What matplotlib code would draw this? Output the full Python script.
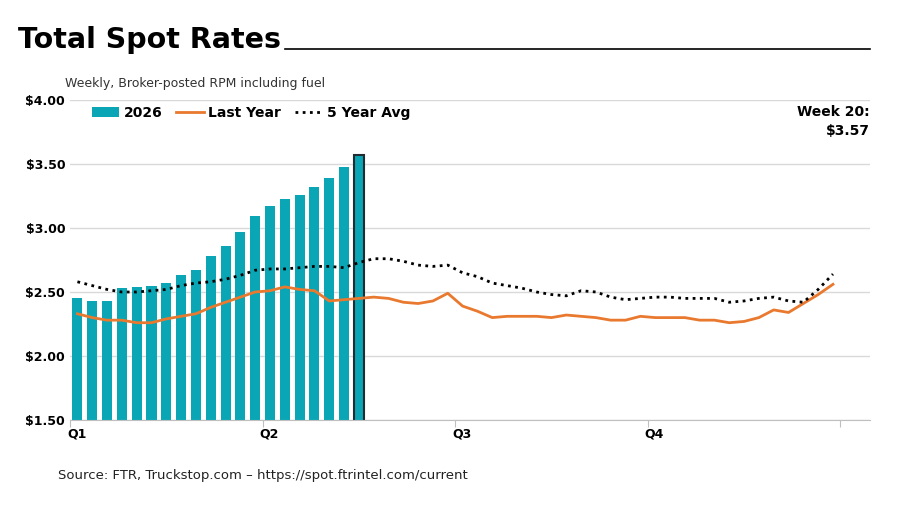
import matplotlib.pyplot as plt
import numpy as np

spot_2026 = [2.45, 2.43, 2.43, 2.53, 2.54, 2.55, 2.57, 2.63, 2.67, 2.78,
             2.86, 2.97, 3.09, 3.17, 3.23, 3.26, 3.32, 3.39, 3.48, 3.57]
last_year = [2.33, 2.30, 2.28, 2.28, 2.26, 2.26, 2.29, 2.31, 2.33, 2.38,
             2.42, 2.46, 2.50, 2.51, 2.54, 2.52, 2.51, 2.43, 2.44, 2.45,
             2.46, 2.45, 2.42, 2.41, 2.43, 2.49, 2.39, 2.35, 2.30, 2.31,
             2.31, 2.31, 2.30, 2.32, 2.31, 2.30, 2.28, 2.28, 2.31, 2.30,
             2.30, 2.30, 2.28, 2.28, 2.26, 2.27, 2.30, 2.36, 2.34, 2.41,
             2.48, 2.56]
five_yr_avg = [2.58, 2.55, 2.52, 2.50, 2.50, 2.51, 2.52, 2.55, 2.57, 2.58,
               2.60, 2.63, 2.67, 2.68, 2.68, 2.69, 2.70, 2.70, 2.69, 2.73,
               2.76, 2.76, 2.74, 2.71, 2.70, 2.71, 2.65, 2.62, 2.57, 2.55,
               2.53, 2.50, 2.48, 2.47, 2.51, 2.50, 2.46, 2.44, 2.45, 2.46,
               2.46, 2.45, 2.45, 2.45, 2.42, 2.43, 2.45, 2.46, 2.43, 2.42,
               2.52, 2.64]
quarters = ['Q1', 'Q2', 'Q3', 'Q4']

teal = '#0aa6b5'
orange = '#e9792f'

fig = plt.figure(figsize=(8.97, 5.05), dpi=100)
ax = fig.add_axes([70 / 897, 85 / 505, 800 / 897, 320 / 505])

x_bar = np.arange(len(spot_2026)) + 0.5
bars = ax.bar(x_bar, spot_2026, width=0.68, color=teal, label='2026', zorder=2)
bars[-1].set_edgecolor('#1f2d33')
bars[-1].set_linewidth(1.5)

x_line = np.arange(len(last_year)) + 0.5
ax.plot(x_line, last_year, color=orange, lw=2, label='Last Year', zorder=3)
ax.plot(x_line, five_yr_avg, color='black', lw=2, ls=(0, (1, 1.6)), label='5 Year Avg', zorder=4)

ax.set_xlim(0, 54)
ax.set_ylim(1.5, 4.0)
ax.set_yticks(np.arange(1.5, 4.01, 0.5))
ax.set_yticklabels([f'${v:.2f}' for v in np.arange(1.5, 4.01, 0.5)],
                   fontsize=9, fontweight='bold')
ax.grid(axis='y', color='#d9d9d9', lw=1, zorder=0)
ax.set_xticks([0, 13, 26, 39, 52])
ax.set_xticklabels([])
ax.tick_params(axis='x', length=5, color='#bfbfbf', direction='out')
ax.tick_params(axis='y', length=0)
for i, q in enumerate(quarters):
    ax.text(i * 13 - 0.2, 1.44, q, ha='left', va='top', fontsize=9, fontweight='bold')
for s in ['top', 'right', 'left']:
    ax.spines[s].set_visible(False)
ax.spines['bottom'].set_color('#bfbfbf')

handles, labels = ax.get_legend_handles_labels()
order = [labels.index(n) for n in ['2026', 'Last Year', '5 Year Avg']]
ax.legend([handles[i] for i in order], [labels[i] for i in order],
          loc='upper left', bbox_to_anchor=(0.02, 1.0), ncol=3, frameon=False,
          prop={'size': 10, 'weight': 'bold'}, handlelength=2.0, columnspacing=1.0,
          handletextpad=0.3, borderaxespad=0.0)

ax.text(1.0, 0.985, f'Week {len(spot_2026)}:\n${spot_2026[-1]:.2f}', transform=ax.transAxes,
        ha='right', va='top', fontsize=10, fontweight='bold', linespacing=1.5)

fig.text(18 / 897, 1 - 40 / 505, 'Total Spot Rates', fontsize=20.5, fontweight='bold',
         va='center', ha='left')
fig.add_artist(plt.Line2D([285 / 897, 870 / 897], [1 - 49 / 505, 1 - 49 / 505],
                          color='black', lw=1.2))
fig.text(65 / 897, 1 - 83 / 505, 'Weekly, Broker-posted RPM including fuel',
         fontsize=9, color='#333333', va='center')
fig.text(58 / 897, 1 - 475 / 505,
         'Source: FTR, Truckstop.com \u2013 https://spot.ftrintel.com/current',
         fontsize=9.5, color='#222222', va='center')

fig.savefig('out.png', dpi=100)
